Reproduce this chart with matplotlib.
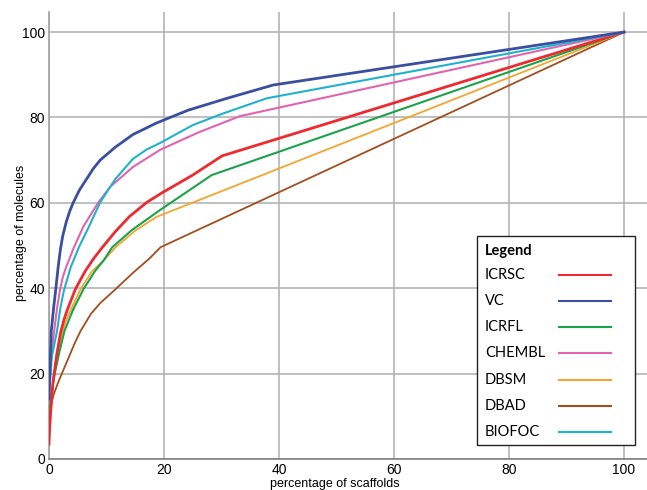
"""Cumulative scaffold coverage curves for seven compound libraries."""

import matplotlib

matplotlib.use("Agg")
import matplotlib.pyplot as plt
from matplotlib.lines import Line2D
from matplotlib.patches import Rectangle

plt.rcParams["font.family"] = ["Liberation Sans", "DejaVu Sans"]

# values (x = % scaffolds, y = % molecules)
icrsc_x = [0, 0.15, 0.35, 0.7, 1.3, 2.0, 2.6, 3.2, 4.6, 6.3, 7.8, 9.3, 11.5, 14.0, 17.0, 19.6, 25.0, 30.1, 100]
icrsc_y = [3.5, 8.0, 12.0, 18.0, 24.0, 29.5, 32.6, 35.0, 39.8, 44.0, 47.0, 49.6, 53.2, 56.8, 60.1, 62.3, 66.5, 71.0, 100]

vc_x = [0, 0.15, 0.4, 0.8, 1.2, 1.6, 2.0, 2.4, 3.0, 3.6, 4.2, 5.3, 6.5, 7.7, 8.9, 11.5, 14.6, 18.7, 24.2, 31.0, 39.0, 100]
vc_y = [14, 20, 30, 35.3, 40, 45, 49.2, 52.3, 55.5, 58.0, 60.0, 63.0, 65.5, 68.0, 70.0, 73.0, 76.0, 78.7, 81.7, 84.5, 87.6, 100]

icrfl_x = [0, 0.4, 1.0, 1.8, 2.7, 4.2, 6.0, 8.0, 9.5, 11.0, 14.4, 19.3, 28.3, 100]
icrfl_y = [10, 15, 20, 25, 30, 35, 39.8, 44.0, 46.5, 49.6, 53.6, 58.3, 66.5, 100]

chembl_x = [0, 0.4, 0.9, 1.4, 1.9, 2.4, 3.0, 4.35, 6.0, 8.6, 10.6, 14.6, 19.3, 26.0, 33.2, 100]
chembl_y = [15, 25, 30, 35.3, 39.5, 42.6, 45.0, 49.6, 54.5, 60.1, 63.7, 68.4, 72.4, 76.5, 80.3, 100]

dbsm_x = [0, 0.4, 0.9, 1.6, 2.4, 3.0, 3.8, 5.5, 7.5, 9.5, 11.6, 15.0, 18.7, 100]
dbsm_y = [8, 14, 19.7, 25, 30, 32.5, 35, 39.8, 44.0, 46.5, 49.6, 53.5, 56.7, 100]

dbad_x = [0, 0.3, 0.8, 1.5, 2.3, 3.5, 4.5, 5.5, 7.3, 8.9, 11.6, 14.6, 17.5, 19.4, 100]
dbad_y = [10, 12.5, 15, 17.6, 20.2, 24, 27.2, 30, 34, 36.5, 39.8, 43.6, 47.0, 49.6, 100]

biofoc_x = [0, 0.5, 1.4, 2.0, 2.6, 3.8, 5.2, 6.8, 8.9, 11.5, 14.6, 17.0, 19.3, 25.0, 30.0, 37.9, 100]
biofoc_y = [15, 24, 30, 35.5, 39.5, 45.0, 49.6, 54.0, 60.1, 65.5, 70.3, 72.5, 74.0, 78.2, 80.8, 84.5, 100]

names = ["ICRSC", "VC", "ICRFL", "CHEMBL", "DBSM", "DBAD", "BIOFOC"]
colors = ["#ec2a2f", "#3b4fa1", "#1ba24a", "#e065ae", "#f3a530", "#a24e1f", "#20b2cd"]
widths = [2.0, 2.0, 1.5, 1.5, 1.3, 1.3, 1.5]
series = [
    (icrsc_x, icrsc_y),
    (vc_x, vc_y),
    (icrfl_x, icrfl_y),
    (chembl_x, chembl_y),
    (dbsm_x, dbsm_y),
    (dbad_x, dbad_y),
    (biofoc_x, biofoc_y),
]

fig = plt.figure(figsize=(6.47, 4.90), dpi=100)
ax = fig.add_axes([0.0757, 0.0633, 0.9243, 0.9122])

# draw back to front like the original (brown at the bottom)
draw_order = [5, 4, 2, 0, 3, 6, 1]
for i in draw_order:
    xs, ys = series[i]
    ax.plot(xs, ys, color=colors[i], linewidth=widths[i], solid_joinstyle="round", zorder=3)

ax.set_xlim(0, 104)
ax.set_ylim(0, 104.7)
ax.set_xticks(range(0, 101, 20))
ax.set_yticks(range(0, 101, 20))
ax.grid(True, color="#b4b4b4", linewidth=1.2)
ax.set_axisbelow(True)
ax.tick_params(length=0, labelsize=10, pad=3)
for side in ["top", "right"]:
    ax.spines[side].set_visible(False)
ax.spines["left"].set_color("#a0a0a0")
ax.spines["bottom"].set_color("#808080")
ax.spines["left"].set_linewidth(1.2)
ax.spines["bottom"].set_linewidth(1.2)

ax.set_xlabel("percentage of scaffolds", fontsize=9, labelpad=0)
ax.set_ylabel("percentage of molecules", fontsize=9)
ax.xaxis.set_label_coords(0.478, -0.042)
ax.yaxis.set_label_coords(-0.036, 0.505)

# legend drawn as a boxed panel: labels on the left, line samples on the right
box_x0, box_y0, box_w, box_h = 0.716, 0.031, 0.264, 0.4676
ax.add_patch(Rectangle((box_x0, box_y0), box_w, box_h, transform=ax.transAxes,
                       facecolor="white", edgecolor="#222222", linewidth=1.0, zorder=5))
legend_font = ["Lato", "DejaVu Sans"]
ax.text(0.729, 0.466, "Legend", transform=ax.transAxes,
        fontsize=10.5, fontweight="bold", family=legend_font, va="center", zorder=6)
row_step = 0.0586
first_row = 0.412
for k, name in enumerate(names):
    yy = first_row - k * row_step
    ax.text(0.729, yy, name, transform=ax.transAxes, fontsize=10.5,
            family=legend_font, va="center", zorder=6)
    ax.add_line(Line2D([0.853, 0.940], [yy, yy], transform=ax.transAxes,
                       color=colors[k], linewidth=1.5, zorder=6))

fig.savefig("out.png", dpi=100)
